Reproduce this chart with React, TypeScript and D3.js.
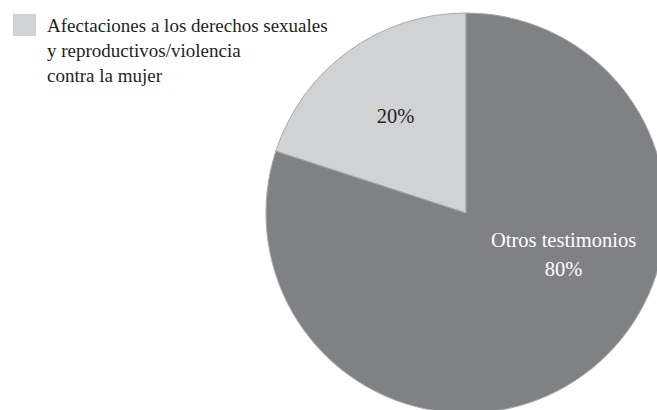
import React, { useEffect, useRef } from 'react';
import * as d3 from 'd3';

// slice data, clockwise from 12 o'clock
const categories = ['Afectaciones a los derechos sexuales y reproductivos/violencia contra la mujer', 'Otros testimonios'];
const values = [20, 80];
const sliceLabels = [['20%'], ['Otros testimonios', '80%']];
const legendLines = ['Afectaciones a los derechos sexuales', 'y reproductivos/violencia', 'contra la mujer'];

const colors = ['#d1d2d4', '#808184'];
const labelColors = ['#231f20', '#ffffff'];
// where each label sits: angle (deg, clockwise from top) and fraction of radius
const labelPlacement = [
  { angle: -36, r: 0.6 },
  { angle: 113, r: 0.53 },
];

const App: React.FC = () => {
  const ref = useRef<SVGSVGElement | null>(null);

  useEffect(() => {
    if (!ref.current) return;
    const width = 657;
    const height = 410;
    const cx = 466;
    const cy = 213;
    const radius = 200;
    const font = '"Liberation Serif", "Times New Roman", serif';

    const svg = d3.select(ref.current);
    svg.selectAll('*').remove();
    svg.attr('width', width).attr('height', height);

    const data = categories.map((c, i) => ({ name: c, value: values[i], i }));

    // light slice goes counter-clockwise from the top, the rest fills the circle
    const offset = 2 * Math.PI * values[0] / d3.sum(values);
    const pie = d3.pie<{ name: string; value: number; i: number }>()
      .value(d => d.value)
      .sort(null)
      .startAngle(-offset)
      .endAngle(2 * Math.PI - offset);

    const arc = d3.arc<d3.PieArcDatum<{ name: string; value: number; i: number }>>()
      .innerRadius(0)
      .outerRadius(radius);

    const g = svg.append('g').attr('transform', `translate(${cx},${cy})`);

    g.selectAll('path')
      .data(pie(data))
      .enter().append('path')
      .attr('d', arc)
      .attr('fill', d => colors[d.data.i])
      .attr('stroke', '#a7a9ac')
      .attr('stroke-width', 1);

    const lineH = 29;
    labelPlacement.forEach((p, i) => {
      const a = (p.angle * Math.PI) / 180;
      const x = Math.sin(a) * radius * p.r;
      const y = -Math.cos(a) * radius * p.r;
      const lines = sliceLabels[i];
      const t = g.append('text')
        .attr('x', x)
        .attr('y', y - ((lines.length - 1) * lineH) / 2)
        .attr('text-anchor', 'middle')
        .attr('dominant-baseline', 'central')
        .attr('font-family', font)
        .attr('font-size', 20.5)
        .attr('fill', labelColors[i]);
      lines.forEach((l, k) => {
        t.append('tspan').attr('x', x).attr('dy', k === 0 ? 0 : lineH).text(l);
      });
    });

    // legend
    const legend = svg.append('g').attr('transform', 'translate(13,14)');
    legend.append('rect')
      .attr('width', 23)
      .attr('height', 22)
      .attr('fill', colors[0]);
    const lt = legend.append('text')
      .attr('x', 34)
      .attr('y', 18)
      .attr('font-family', font)
      .attr('font-size', 19)
      .attr('fill', '#231f20');
    legendLines.forEach((l, k) => {
      lt.append('tspan').attr('x', 34).attr('dy', k === 0 ? 0 : 25).text(l);
    });
  }, []);

  return (
    <div style={{ position: 'absolute', left: 0, top: 0, background: '#fff' }}>
      <svg ref={ref} style={{ display: 'block' }} />
    </div>
  );
};

export default App;
